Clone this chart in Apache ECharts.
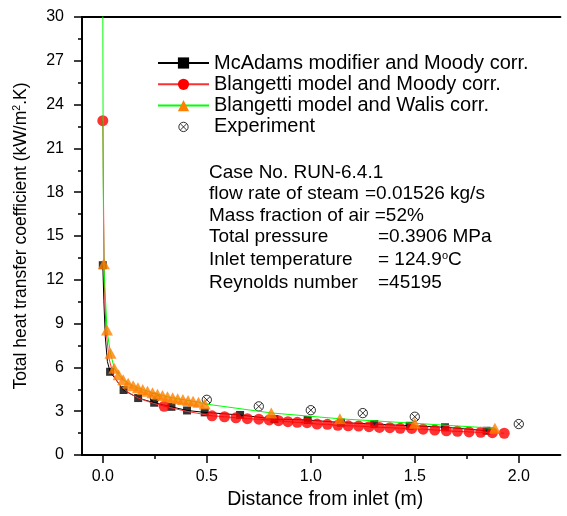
<!DOCTYPE html>
<html>
<head>
<meta charset="utf-8">
<script src="https://cdn.jsdelivr.net/npm/echarts@6/dist/echarts.min.js"></script>
<style>
  html, body { margin: 0; padding: 0; background: #fff; }
  #chart { width: 567px; height: 516px; }
</style>
</head>
<body>
<div id="chart"></div>
<script>
// ---- Data ----
// McAdams modifier and Moody corr. (black squares)
const mcX = [0.0, 0.035, 0.10, 0.17, 0.247, 0.33, 0.405, 0.49, 0.66, 0.825, 0.985, 1.145, 1.305, 1.475, 1.645, 1.845];
const mcY = [13.0, 5.7, 4.45, 3.9, 3.58, 3.3, 3.05, 2.92, 2.74, 2.46, 2.4, 2.22, 2.12, 2.0, 1.9, 1.66];
// extra curve points of the black line (no marker)
const mcCurveX = [0.005, 0.012, 0.022];
const mcCurveY = [10.6, 8.1, 6.4];

// Blangetti model and Moody corr. (red circles)
const bmX = [0.0, 0.295, 0.525, 0.585, 0.64, 0.695, 0.75, 0.80, 0.845, 0.89, 0.935, 0.982, 1.03, 1.08, 1.13, 1.18, 1.23, 1.28, 1.33, 1.38, 1.43, 1.485, 1.54, 1.596, 1.652, 1.705, 1.761, 1.817, 1.873, 1.93];
const bmY = [22.9, 3.34, 2.68, 2.62, 2.55, 2.49, 2.45, 2.40, 2.35, 2.28, 2.24, 2.21, 2.12, 2.10, 2.03, 2.0, 1.98, 1.94, 1.89, 1.87, 1.83, 1.82, 1.77, 1.71, 1.66, 1.62, 1.58, 1.55, 1.53, 1.49];
const bmCurveX = [0.004, 0.008, 0.015, 0.03, 0.05, 0.08, 0.12, 0.17, 0.23, 0.4];
const bmCurveY = [16.5, 11.5, 8.6, 6.6, 5.5, 4.8, 4.3, 3.9, 3.6, 3.0];

// Blangetti model and Walis corr. (orange triangles)
const bwX = [0.005, 0.02, 0.037, 0.055, 0.076, 0.098, 0.122, 0.146, 0.169, 0.192, 0.215, 0.239, 0.263, 0.287, 0.311, 0.336, 0.36, 0.385, 0.41, 0.434, 0.46, 0.49, 0.81, 1.14, 1.5, 1.885];
const bwY = [13.1, 8.56, 6.97, 5.95, 5.5, 5.15, 4.92, 4.75, 4.6, 4.48, 4.37, 4.26, 4.16, 4.08, 3.99, 3.92, 3.85, 3.8, 3.74, 3.68, 3.62, 3.5, 2.88, 2.48, 2.17, 1.83];
const bwCurveX = [0.0, 0.002];
const bwCurveY = [30.5, 19.0];

// Experiment
const expX = [0.25, 0.5, 0.75, 1.0, 1.25, 1.5, 2.0];
const expY = [3.92, 3.78, 3.33, 3.07, 2.87, 2.62, 2.12];

// Axis ticks
const xMajorTicks = [0.0, 0.5, 1.0, 1.5, 2.0];
const xMinorTicks = [0.25, 0.75, 1.25, 1.75];

const seriesNames = [
  'McAdams modifier and Moody corr.',
  'Blangetti model and Moody corr.',
  'Blangetti model and Walis corr.',
  'Experiment'
];

const infoLeft = ['Case No. RUN-6.4.1', 'flow rate of steam', 'Mass fraction of air =52%', 'Total pressure', 'Inlet temperature', 'Reynolds number'];
const infoRight = ['', '=0.01526 kg/s', '', '=0.3906 MPa', '= 124.9{sup|o}C', '=45195'];

// ---- helpers ----
function pts(xs, ys) { return xs.map((x, i) => [x, ys[i]]); }
function curve(xs, ys, cx, cy) {
  return pts(xs, ys).concat(pts(cx, cy)).sort((a, b) => a[0] - b[0]);
}

const FONT = 'Liberation Sans';
const chart = echarts.init(document.getElementById('chart'), null, { renderer: 'canvas' });

const expSymbol = 'path://M-2.5,-2.5M12.5,12.5M0,5A5,5,0,1,1,10,5A5,5,0,1,1,0,5ZM1.6,1.6L8.4,8.4M8.4,1.6L1.6,8.4';

const infoGraphics = [];
const infoY = [173, 194, 216, 237, 260, 283];
const infoRightX = [0, 365, 0, 378, 378, 378];
infoLeft.forEach((t, i) => {
  infoGraphics.push({
    type: 'text', x: 209, y: infoY[i],
    style: { text: t, fontFamily: FONT, fontSize: 19, fill: '#000', verticalAlign: 'middle', align: 'left' }
  });
  if (infoRight[i]) {
    infoGraphics.push({
      type: 'text', x: infoRightX[i], y: infoY[i],
      style: {
        text: infoRight[i], fontFamily: FONT, fontSize: 19, fill: '#000', verticalAlign: 'middle', align: 'left',
        rich: { sup: { fontFamily: FONT, fontSize: 11, fill: '#000', verticalAlign: 'top', lineHeight: 19 } }
      }
    });
  }
});

const option = {
  animation: false,
  backgroundColor: '#fff',
  grid: { left: 82, top: 17, right: 6.6, bottom: 61, containLabel: false },
  legend: {
    orient: 'vertical', left: 157, top: 53, padding: 0,
    itemWidth: 51, itemHeight: 14, itemGap: 1.3,
    textStyle: { fontFamily: FONT, fontSize: 20, color: '#000' },
    data: [
      { name: seriesNames[0] },
      { name: seriesNames[1] },
      { name: seriesNames[2] },
      { name: seriesNames[3], itemStyle: { borderWidth: 1, borderColor: '#000', color: 'transparent' } }
    ]
  },
  xAxis: [
    {
      type: 'value', position: 'bottom', min: -0.1, max: 2.2,
      axisLine: { show: true, onZero: false, lineStyle: { color: '#000', width: 2 } },
      axisTick: { show: true, customValues: xMajorTicks, length: 8, lineStyle: { color: '#000', width: 1.5 } },
      axisLabel: { show: true, customValues: xMajorTicks, formatter: v => v.toFixed(1), margin: 14,
        fontFamily: FONT, fontSize: 16, color: '#000' },
      splitLine: { show: false },
      name: 'Distance from inlet (m)', nameLocation: 'middle', nameGap: 34,
      nameTextStyle: { fontFamily: FONT, fontSize: 19.5, color: '#000', padding: [0, 0, 0, 8] }
    },
    {
      type: 'value', position: 'bottom', min: -0.1, max: 2.2, offset: 0,
      axisLine: { show: false },
      axisTick: { show: true, customValues: xMinorTicks, length: 4, lineStyle: { color: '#000', width: 1.5 } },
      axisLabel: { show: false },
      splitLine: { show: false }
    },
    {
      type: 'value', position: 'top', min: -0.1, max: 2.2,
      axisLine: { show: true, onZero: false, lineStyle: { color: '#000', width: 2 } },
      axisTick: { show: false }, axisLabel: { show: false }, splitLine: { show: false }
    }
  ],
  yAxis: {
    type: 'value', min: 0, max: 30, interval: 3,
    axisLine: { show: true, onZero: false, lineStyle: { color: '#000', width: 2 } },
    axisTick: { show: true, length: 8, lineStyle: { color: '#000', width: 1.5 } },
    minorTick: { show: true, splitNumber: 2, length: 4, lineStyle: { color: '#000', width: 1.5 } },
    axisLabel: { margin: 18, fontFamily: FONT, fontSize: 16, color: '#000' },
    splitLine: { show: false },
    name: 'Total heat transfer coefficient (kW/m{sup|2}.K)',
    nameLocation: 'middle', nameGap: 52,
    nameTextStyle: { fontFamily: FONT, fontSize: 17.5, color: '#000',
      rich: { sup: { fontFamily: FONT, fontSize: 10.5, color: '#000', verticalAlign: 'top', lineHeight: 17 } } }
  },
  graphic: infoGraphics,
  series: [
    {
      name: seriesNames[0], type: 'line', data: curve(mcX, mcY, mcCurveX, mcCurveY),
      showSymbol: false, symbol: 'rect', itemStyle: { color: '#000' },
      lineStyle: { color: '#000', width: 1 }, z: 2
    },
    {
      name: 'mcMarkers', type: 'scatter', data: pts(mcX, mcY),
      symbol: 'rect', symbolSize: 8, itemStyle: { color: '#000' }, z: 3
    },
    {
      name: seriesNames[1], type: 'line', data: curve(bmX, bmY, bmCurveX, bmCurveY),
      showSymbol: false, symbol: 'circle', itemStyle: { color: '#ff0000' },
      lineStyle: { color: '#ff3030', width: 1 }, z: 4
    },
    {
      name: 'bmMarkers', type: 'scatter', data: pts(bmX, bmY),
      symbol: 'circle', symbolSize: 11, itemStyle: { color: '#ff0000' }, z: 5
    },
    {
      name: seriesNames[3], type: 'scatter', data: pts(expX, expY),
      symbol: expSymbol, symbolSize: 14,
      itemStyle: { color: 'transparent', borderColor: '#000', borderWidth: 1 }, z: 6
    },
    {
      name: seriesNames[2], type: 'line', data: curve(bwX, bwY, bwCurveX, bwCurveY),
      showSymbol: false, symbol: 'triangle', itemStyle: { color: '#ff8000' },
      lineStyle: { color: '#00ff00', width: 1 }, z: 7
    },
    {
      name: 'bwMarkers', type: 'scatter', data: pts(bwX, bwY),
      symbol: 'triangle', symbolSize: [12, 11], itemStyle: { color: '#ff8000' }, z: 8
    }
  ]
};
chart.setOption(option);
</script>
</body>
</html>
